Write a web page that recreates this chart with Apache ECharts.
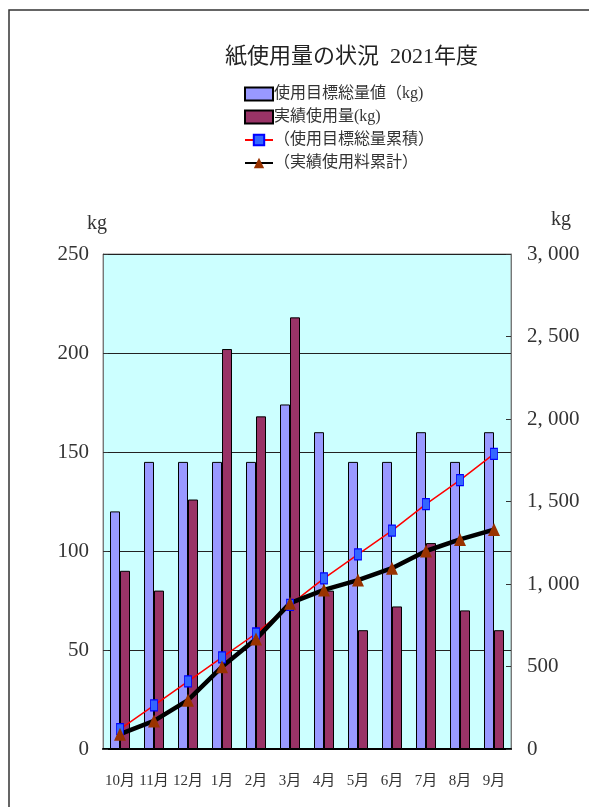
<!DOCTYPE html>
<html>
<head>
<meta charset="utf-8">
<script src="https://cdn.jsdelivr.net/npm/echarts@6/dist/echarts.min.js"></script>
<style>html,body{margin:0;padding:0;background:#fff;}#c{width:589px;height:807px;}</style>
</head>
<body>
<div id="c"></div>
<script>
var months = ['10月','11月','12月','1月','2月','3月','4月','5月','6月','7月','8月','9月'];
var targetUse = [120,145,145,145,145,174,160,145,145,160,145,160];
var actualUse = [90,80,126,202,168,218,80,60,72,104,70,60];
var targetCum = [120,265,410,555,700,874,1034,1179,1324,1484,1629,1789];
var actualCum = [90,170,296,498,666,884,964,1024,1096,1200,1270,1330];
var leftTicks = {min:0,max:250,interval:50};
var rightTicks = {min:0,max:3000,interval:500};

var FONT = "'Liberation Serif','Noto Sans CJK JP',serif";
var chart = echarts.init(document.getElementById('c'));
chart.setOption({
  animation:false,
  backgroundColor:'#ffffff',
  textStyle:{fontFamily:FONT},
  title:{
    text:'紙使用量の状況  2021年度',
    left:220, top:41,
    textStyle:{fontFamily:FONT,fontSize:22,fontWeight:'normal',color:'#222'}
  },
  legend:{
    orient:'vertical', left:239, top:81, itemGap:7,
    itemWidth:28, itemHeight:13,
    textStyle:{fontFamily:FONT,fontSize:16,color:'#333',padding:[0,0,0,-4]},
    data:[
      {name:'使用目標総量値（kg)',icon:'rect'},
      {name:'実績使用量(kg)',icon:'rect'},
      {name:'（使用目標総量累積）'},
      {name:'（実績使用料累計）'}
    ]
  },
  graphic:[
    {type:'polyline',shape:{points:[[9,807],[9,10],[589,10]]},style:{stroke:'#333',lineWidth:1.5,fill:null}}
  ],
  grid:{left:103,right:78,top:254,bottom:58,outerBoundsMode:'none',containLabel:false,show:true,backgroundColor:'#ccffff',borderColor:'#888',borderWidth:1},
  xAxis:{
    type:'category', data:months, boundaryGap:true,
    axisLine:{lineStyle:{color:'#000',width:2}},
    axisTick:{inside:true,length:5,interval:0,lineStyle:{color:'#999'}},
    axisLabel:{fontFamily:FONT,fontSize:15,color:'#333',margin:25,interval:0}
  },
  yAxis:[
    {type:'value',min:leftTicks.min,max:leftTicks.max,interval:leftTicks.interval,
     name:'kg',nameLocation:'end',nameGap:20,
     nameTextStyle:{fontFamily:FONT,fontSize:20,color:'#333',align:'right',padding:[0,-4,0,0]},
     axisLine:{show:true,lineStyle:{color:'#777'}},
     axisTick:{show:true,inside:true,length:5,lineStyle:{color:'#333'}},
     axisLabel:{fontFamily:FONT,fontSize:21,color:'#333',margin:14},
     splitLine:{show:true,lineStyle:{color:'#222',width:1}}},
    {type:'value',min:rightTicks.min,max:rightTicks.max,interval:rightTicks.interval,position:'right',
     name:'kg',nameLocation:'end',nameGap:24,
     nameTextStyle:{fontFamily:FONT,fontSize:20,color:'#333',align:'left',padding:[0,0,0,40]},
     axisLine:{show:true,lineStyle:{color:'#777'}},
     axisTick:{show:true,inside:true,length:5,lineStyle:{color:'#333'}},
     axisLabel:{fontFamily:FONT,fontSize:21,color:'#333',margin:16,
       formatter:function(v){return v>=1000?(Math.floor(v/1000)+', '+String(v%1000).padStart(3,'0')):String(v);}},
     splitLine:{show:false}}
  ],
  series:[
    {name:'使用目標総量値（kg)',type:'bar',data:targetUse,barWidth:10,barGap:'0%',
     itemStyle:{color:'#9999ff',borderColor:'#000',borderWidth:1}},
    {name:'実績使用量(kg)',type:'bar',data:actualUse,barWidth:10,barGap:'0%',
     itemStyle:{color:'#993366',borderColor:'#000',borderWidth:1}},
    {name:'（使用目標総量累積）',type:'line',yAxisIndex:1,data:targetCum,
     symbol:'rect',symbolSize:[7,11],
     lineStyle:{color:'#ff0000',width:1.5},
     itemStyle:{color:'#3366ff',borderColor:'#0000ff',borderWidth:1}},
    {name:'（実績使用料累計）',type:'line',yAxisIndex:1,data:actualCum,
     symbol:'triangle',symbolSize:[12,13],
     lineStyle:{color:'#000',width:4.5},
     itemStyle:{color:'#993300'}}
  ]
});
</script>
</body>
</html>
